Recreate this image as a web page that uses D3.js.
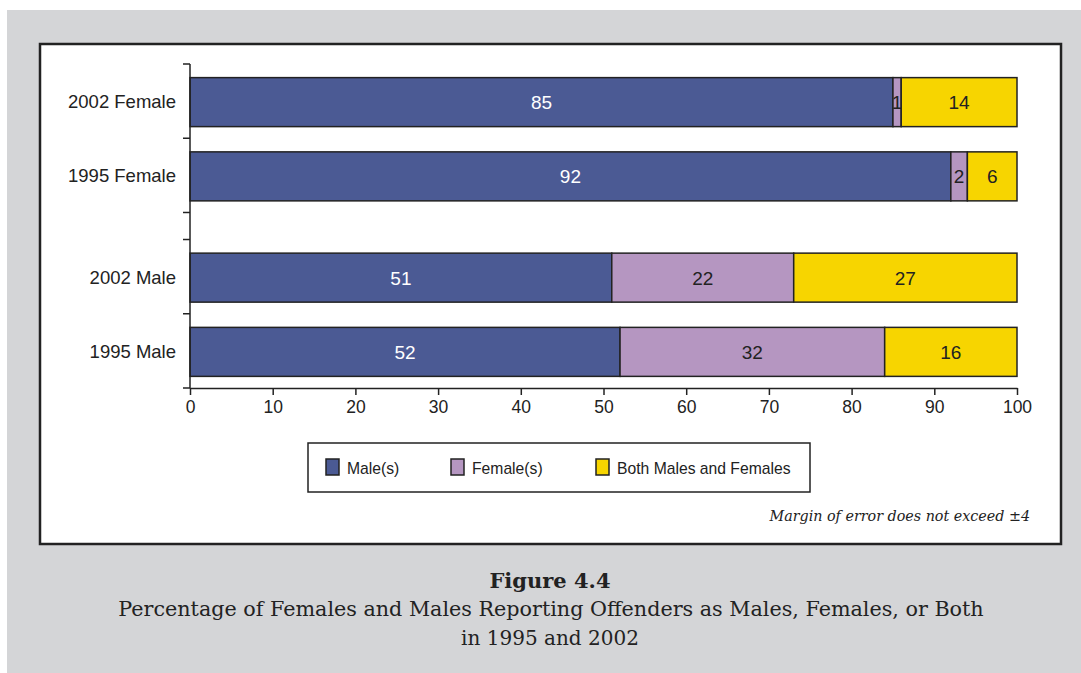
<!DOCTYPE html>
<html>
<head>
<meta charset="utf-8"/>
<title>Figure 4.4</title>
<script src="https://cdn.jsdelivr.net/npm/d3@7"></script>
<style>
  body { margin: 0; background: #fff; }
  svg { display: block; }
</style>
</head>
<body>
<svg id="chart" width="1081" height="673"></svg>
<script>
// data
var groups = ["Female", "Male"];
var years = ["2002", "1995"];
var categories = ["2002 Female", "1995 Female", "2002 Male", "1995 Male"];
var seriesNames = ["Male(s)", "Female(s)", "Both Males and Females"];
var maleValues = [85, 92, 51, 52];
var femaleValues = [1, 2, 22, 32];
var bothValues = [14, 6, 27, 16];
var xTicks = [0, 10, 20, 30, 40, 50, 60, 70, 80, 90, 100];
var colors = ["#4b5a94", "#b596c1", "#f7d500"];

var sans = "Liberation Sans, Arial, sans-serif";
var serif = "DejaVu Serif, serif";

var svg = d3.select("#chart");

// gray page + white chart box
svg.append("rect").attr("x", 7).attr("y", 10).attr("width", 1074).attr("height", 663).attr("fill", "#d4d5d7");
svg.append("rect").attr("x", 40).attr("y", 44).attr("width", 1021).attr("height", 500)
  .attr("fill", "#fff").attr("stroke", "#222").attr("stroke-width", 2.5);

var x = d3.scaleLinear().domain([0, 100]).range([190, 1017]);
var outer = d3.scaleBand().domain(groups).range([64, 388]).paddingInner(0.154);
var inner = d3.scaleBand().domain(years).range([0, outer.bandwidth()]);

var rows = categories.map(function(c, i) {
  var p = c.split(" ");
  return { name: c, year: p[0], group: p[1], vals: [maleValues[i], femaleValues[i], bothValues[i]] };
});

function slotTop(d) { return outer(d.group) + inner(d.year); }
var barH = inner.bandwidth() * 0.66;

// bars
rows.forEach(function(r) {
  var y0 = slotTop(r) + (inner.bandwidth() - barH) / 2 + 1;
  var acc = 0;
  r.vals.forEach(function(v, k) {
    svg.append("rect")
      .attr("x", x(acc)).attr("y", y0)
      .attr("width", x(acc + v) - x(acc)).attr("height", barH)
      .attr("fill", colors[k]).attr("stroke", "#222").attr("stroke-width", 1.5);
    svg.append("text")
      .attr("x", (x(acc) + x(acc + v)) / 2).attr("y", y0 + barH / 2 + 7)
      .attr("text-anchor", "middle")
      .attr("font-family", sans).attr("font-size", 19)
      .attr("fill", k == 0 ? "#fff" : "#222")
      .text(v);
    acc += v;
  });
  svg.append("text")
    .attr("x", 176).attr("y", y0 + barH / 2 + 6)
    .attr("text-anchor", "end")
    .attr("font-family", sans).attr("font-size", 18.5)
    .attr("fill", "#222")
    .text(r.name);
});

// y axis with slot boundary ticks
svg.append("line").attr("x1", 190).attr("x2", 190).attr("y1", 64).attr("y2", 388)
  .attr("stroke", "#222").attr("stroke-width", 1.5);
groups.forEach(function(g) {
  years.concat(["end"]).forEach(function(yr) {
    var yy = yr == "end" ? outer(g) + outer.bandwidth() : outer(g) + inner(yr);
    svg.append("line").attr("x1", 183).attr("x2", 190).attr("y1", yy).attr("y2", yy)
      .attr("stroke", "#222").attr("stroke-width", 1.5);
  });
});

// x axis
var xAxis = svg.append("g").attr("transform", "translate(0,388)")
  .call(d3.axisBottom(x).tickValues(xTicks).tickSize(7).tickSizeOuter(0).tickPadding(6));
xAxis.select(".domain").attr("stroke", "#222").attr("stroke-width", 1.5);
xAxis.selectAll(".tick line").attr("stroke", "#222").attr("stroke-width", 1.5);
xAxis.selectAll(".tick text").attr("font-family", sans)
  .attr("font-size", 17.5).attr("fill", "#222");

// legend
svg.append("rect").attr("x", 308).attr("y", 443).attr("width", 502).attr("height", 49)
  .attr("fill", "#fff").attr("stroke", "#222").attr("stroke-width", 1.5);
var legX = [326, 451, 596];
seriesNames.forEach(function(n, k) {
  svg.append("rect").attr("x", legX[k]).attr("y", 459).attr("width", 13).attr("height", 16)
    .attr("fill", colors[k]).attr("stroke", "#222").attr("stroke-width", 1.5);
  svg.append("text").attr("x", legX[k] + 21).attr("y", 474)
    .attr("font-family", sans).attr("font-size", 15.7)
    .attr("fill", "#222").text(n);
});

svg.append("text").attr("x", 1030).attr("y", 521).attr("text-anchor", "end")
  .attr("font-family", serif).attr("font-style", "italic")
  .attr("font-size", 14.3).attr("fill", "#222")
  .text("Margin of error does not exceed \u00b14");

// caption
svg.append("text").attr("x", 550).attr("y", 588).attr("text-anchor", "middle")
  .attr("font-family", serif).attr("font-weight", "bold")
  .attr("font-size", 21).attr("fill", "#222").text("Figure 4.4");
svg.append("text").attr("x", 551).attr("y", 616).attr("text-anchor", "middle")
  .attr("font-family", serif).attr("font-size", 20.7).attr("fill", "#222")
  .text("Percentage of Females and Males Reporting Offenders as Males, Females, or Both");
svg.append("text").attr("x", 550).attr("y", 645).attr("text-anchor", "middle")
  .attr("font-family", serif).attr("font-size", 20).attr("fill", "#222")
  .text("in 1995 and 2002");
</script>
</body>
</html>
